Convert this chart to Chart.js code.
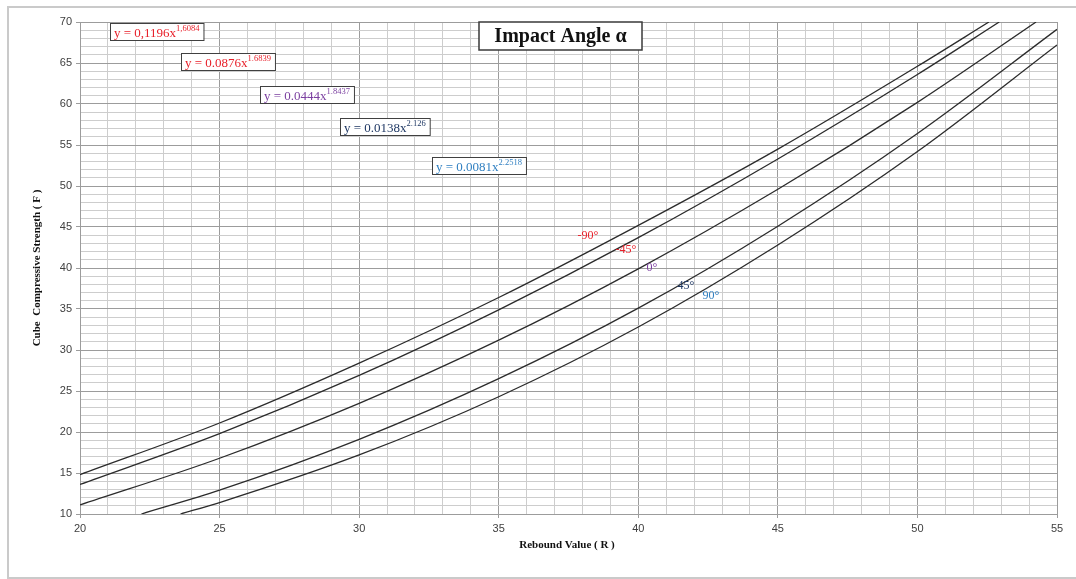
<!DOCTYPE html>
<html>
<head>
<meta charset="utf-8">
<script src="https://cdn.jsdelivr.net/npm/chart.js@4"></script>
<style>
  html, body { margin: 0; padding: 0; background: #fff; }
  #wrap { width: 1076px; height: 579px; position: relative; }
</style>
</head>
<body>
<div id="wrap"><canvas id="chart" width="1076" height="579"></canvas></div>
<script>
// Curves (Rebound value R -> cube strength F)
const angleLabels = ["-90°", "-45°", "0°", "45°", "90°"];
const angleColors = ["#e8202a", "#e8202a", "#7b3fa0", "#1f3864", "#2f7fc1"];

const xNeg90 = [20, 25, 30, 35, 40, 45, 50, 52.56];
const yNeg90 = [14.8, 21.1, 28.4, 36.4, 45.2, 54.5, 64.6, 70];
const xNeg45 = [20, 25, 30, 35, 40, 45, 50, 52.93];
const yNeg45 = [13.6, 19.8, 26.9, 34.9, 43.7, 53.3, 63.6, 70];
const xZero = [20, 25, 30, 35, 40, 45, 50, 54.25];
const yZero = [11.1, 16.8, 23.5, 31.2, 39.9, 49.6, 60.2, 70];
const xPos45 = [22.2, 25, 30, 35, 40, 45, 50, 55];
const yPos45 = [10, 12.9, 19.1, 26.5, 35.1, 45.1, 56.4, 69.1];
const xPos90 = [23.6, 25, 30, 35, 40, 45, 50, 55];
const yPos90 = [10, 11.4, 17.2, 24.3, 32.8, 42.8, 54.2, 67.2];

const eqBase = ["y = 0,1196x", "y = 0.0876x", "y = 0.0444x", "y = 0.0138x", "y = 0.0081x"];
const eqExp = ["1,6084", "1.6839", "1.8437", "2.126", "2.2518"];

const seriesX = [xNeg90, xNeg45, xZero, xPos45, xPos90];
const seriesY = [yNeg90, yNeg45, yZero, yPos45, yPos90];

const datasets = seriesX.map((xs, i) => ({
  label: angleLabels[i],
  data: xs.map((x, j) => ({ x: x, y: seriesY[i][j] })),
  borderColor: "#2b2b2b",
  borderWidth: 1.3,
  pointRadius: 0,
  fill: false,
  cubicInterpolationMode: "monotone",
}));

const gridColor = (ctx) => {
  const v = ctx.tick ? ctx.tick.value : 0;
  return Math.abs(v % 5) < 1e-6 ? "#9c9c9c" : "#cdcdcd";
};
const tickMarkColor = (ctx) => {
  const v = ctx.tick ? ctx.tick.value : 0;
  return Math.abs(v % 5) < 1e-6 ? "#9c9c9c" : "rgba(0,0,0,0)";
};
const fiveOnly = (v) => (Math.abs(v % 5) < 1e-6 ? v : "");

// --- extra drawing: frame, title box, equation boxes, angle labels, axis titles ---
const decor = {
  id: "decor",
  beforeDraw(chart) {
    const c = chart.ctx;
    c.save();
    c.fillStyle = "#fff";
    c.fillRect(0, 0, chart.width, chart.height);
    c.strokeStyle = "#cacaca";
    c.lineWidth = 2;
    c.strokeRect(8, 7, 1070, 571);
    c.restore();
  },
  afterDatasetsDraw(chart) {
    const c = chart.ctx;
    c.save();

    // chart title box
    c.fillStyle = "#fff";
    c.fillRect(479, 22, 163, 28);
    c.strokeStyle = "#3a3a3a";
    c.lineWidth = 1.5;
    c.strokeRect(479, 22, 163, 28);
    c.fillStyle = "#111";
    c.font = "bold 20px 'Liberation Serif'";
    c.textAlign = "center";
    c.textBaseline = "middle";
    c.fillText("Impact Angle α", 560.5, 37);

    // equation boxes
    const boxPos = [[110, 23], [181, 53], [260, 86], [340, 118], [432, 157]];
    eqBase.forEach((txt, i) => {
      const [bx, by] = boxPos[i];
      c.font = "13px 'Liberation Serif'";
      const w1 = c.measureText(txt).width;
      c.font = "8.5px 'Liberation Serif'";
      const w2 = c.measureText(eqExp[i]).width;
      const w = w1 + w2 + 8;
      c.fillStyle = "#fff";
      c.fillRect(bx, by, w, 17);
      c.strokeStyle = "#404040";
      c.lineWidth = 1;
      c.strokeRect(bx + 0.5, by + 0.5, w, 17);
      c.fillStyle = angleColors[i];
      c.textAlign = "left";
      c.textBaseline = "alphabetic";
      c.font = "13px 'Liberation Serif'";
      c.fillText(txt, bx + 4, by + 13.5);
      c.font = "8.5px 'Liberation Serif'";
      c.fillText(eqExp[i], bx + 4 + w1, by + 8);
    });

    // angle labels near curves
    const labPos = [[588, 236], [626, 250], [652, 268], [686, 286], [711, 296]];
    c.font = "12px 'Liberation Serif'";
    c.textAlign = "center";
    c.textBaseline = "middle";
    angleLabels.forEach((t, i) => {
      c.fillStyle = angleColors[i];
      c.fillText(t, labPos[i][0], labPos[i][1]);
    });

    // axis titles
    c.fillStyle = "#111";
    c.font = "bold 11px 'Liberation Serif'";
    c.fillText("Rebound Value ( R )", 567, 545);
    c.translate(37, 268);
    c.rotate(-Math.PI / 2);
    c.fillText("Cube  Compressive Strength ( F )", 0, 0);
    c.restore();
  },
};

new Chart(document.getElementById("chart").getContext("2d"), {
  type: "line",
  data: { datasets },
  options: {
    responsive: false,
    animation: false,
    events: [],
    layout: { padding: { left: 0, top: 22, right: 19, bottom: 0 } },
    plugins: { legend: { display: false }, tooltip: { enabled: false } },
    scales: {
      x: {
        type: "linear",
        min: 20,
        max: 55,
        afterFit: (s) => { s.height = 65; },
        ticks: {
          stepSize: 1,
          autoSkip: false,
          maxRotation: 0,
          callback: fiveOnly,
          color: "#404040",
          font: { family: "'Liberation Sans'", size: 11 },
          padding: 4,
        },
        grid: { color: gridColor, tickColor: tickMarkColor, tickLength: 4, lineWidth: 1 },
        border: { color: "#9c9c9c" },
      },
      y: {
        type: "linear",
        min: 10,
        max: 70,
        afterFit: (s) => { s.width = 80; },
        ticks: {
          stepSize: 1,
          autoSkip: false,
          callback: fiveOnly,
          color: "#404040",
          font: { family: "'Liberation Sans'", size: 11 },
          padding: 4,
        },
        grid: { color: gridColor, tickColor: tickMarkColor, tickLength: 4, lineWidth: 1 },
        border: { color: "#9c9c9c" },
      },
    },
  },
  plugins: [decor],
});
</script>
</body>
</html>
